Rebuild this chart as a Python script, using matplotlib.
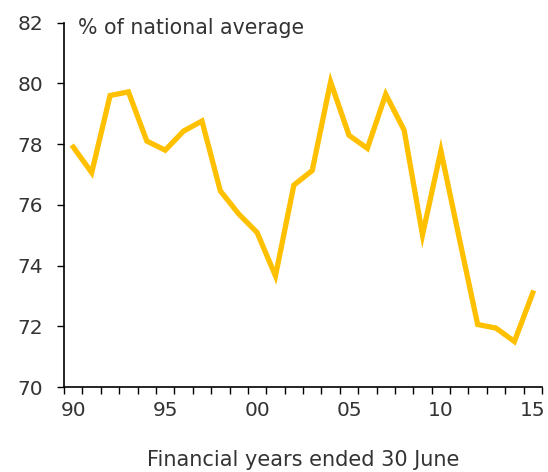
import matplotlib.pyplot as plt
from matplotlib.ticker import FixedLocator

years = list(range(1990, 2016))
values = [77.9, 77.06, 79.6, 79.72, 78.1, 77.8, 78.43, 78.76, 76.46, 75.7,
          75.09, 73.66, 76.65, 77.13, 80.05, 78.29, 77.86, 79.64, 78.46, 75.01,
          77.78, 74.9, 72.06, 71.94, 71.5, 73.1]
label_years = [1990, 1995, 2000, 2005, 2010, 2015]
label_text = ["90", "95", "00", "05", "10", "15"]
y_ticks = [70, 72, 74, 76, 78, 80, 82]

plt.rcParams['font.family'] = ['DejaVu Sans']
text_col = "#333333"

fig = plt.figure(figsize=(5.48, 4.72), dpi=100)
ax = fig.add_axes([0.117, 0.180, 0.872, 0.772])

ax.plot(years, values, color="#FFC000", linewidth=3.8, solid_joinstyle="miter")

ax.set_xlim(years[0] - 0.5, years[-1] + 0.5)
ax.set_ylim(70, 82)
ax.set_yticks(y_ticks)
ax.set_xticks(label_years)
ax.set_xticklabels(label_text)
# ticks sit on category boundaries, labels at the centres
ax.xaxis.set_minor_locator(FixedLocator([y - 0.5 for y in years] + [years[-1] + 0.5]))
ax.tick_params(axis="x", which="major", length=0, pad=10, labelsize=14.5, colors=text_col)
ax.tick_params(axis="x", which="minor", length=5, width=1, color="black")
ax.tick_params(axis="y", length=5, width=1, pad=10, labelsize=14.5, labelcolor=text_col)

for s in ["top", "right"]:
    ax.spines[s].set_visible(False)
for s in ["left", "bottom"]:
    ax.spines[s].set_linewidth(1.2)

ax.text(0.03, 0.985, "% of national average", transform=ax.transAxes,
        fontsize=14.8, color=text_col, va="center", ha="left")
ax.set_xlabel("Financial years ended 30 June", fontsize=15, color=text_col, labelpad=22)

fig.savefig("out.png", dpi=100)
